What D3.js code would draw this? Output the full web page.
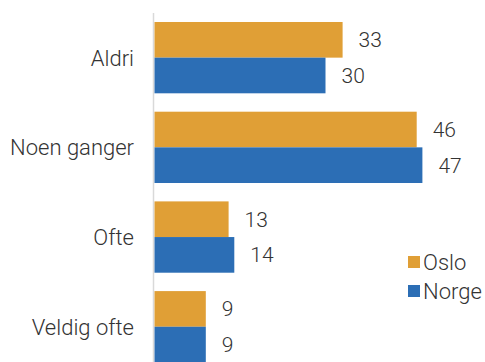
<!DOCTYPE html>
<html>
<head>
<meta charset="utf-8">
<script src="https://cdn.jsdelivr.net/npm/d3@7/dist/d3.min.js"></script>
<style>
  html, body { margin: 0; padding: 0; background: #fff; }
  svg { display: block; }
  text { font-family: Roboto, "Noto Sans", sans-serif; font-weight: 300; fill: #333; }
</style>
</head>
<body>
<svg id="chart" width="485" height="362"></svg>
<script>
// Answers per category, Oslo vs. national figures (percent)
const categories = ["Aldri", "Noen ganger", "Ofte", "Veldig ofte"];
const seriesNames = ["Oslo", "Norge"];
const osloValues = [33, 46, 13, 9];
const norgeValues = [30, 47, 14, 9];
const colors = ["#E09F36", "#2C6EB5"];

const rows = categories.map((c, i) => ({
  category: c,
  values: [
    { series: seriesNames[0], value: osloValues[i] },
    { series: seriesNames[1], value: norgeValues[i] }
  ]
}));

const svg = d3.select("#chart");
const x0 = 154.5;

const x = d3.scaleLinear().domain([0, 50]).range([x0, x0 + 285]);

const y = d3.scaleBand()
  .domain(categories)
  .range([12.8, 371.6])
  .paddingInner(0.205)
  .paddingOuter(0.1025);

const ySub = d3.scaleBand()
  .domain(seriesNames)
  .range([0, y.bandwidth()]);

const color = d3.scaleOrdinal().domain(seriesNames).range(colors);

// Category axis line
svg.append("line")
  .attr("x1", x0 - 1).attr("x2", x0 - 1)
  .attr("y1", 13).attr("y2", 362)
  .attr("stroke", "#d9d9d9")
  .attr("stroke-width", 1.5);

const groups = svg.selectAll("g.group")
  .data(rows)
  .join("g")
  .attr("class", "group")
  .attr("transform", d => `translate(0,${y(d.category)})`);

groups.selectAll("rect")
  .data(d => d.values)
  .join("rect")
  .attr("x", x(0))
  .attr("y", d => ySub(d.series))
  .attr("width", d => x(d.value) - x(0))
  .attr("height", ySub.bandwidth())
  .attr("fill", d => color(d.series));

groups.selectAll("text.value")
  .data(d => d.values)
  .join("text")
  .attr("class", "value")
  .attr("x", d => x(d.value) + 16)
  .attr("y", d => ySub(d.series) + ySub.bandwidth() / 2)
  .attr("dy", "0.36em")
  .attr("font-size", 21)
  .text(d => d.value);

// Category labels
svg.selectAll("text.cat")
  .data(categories)
  .join("text")
  .attr("class", "cat")
  .attr("x", 134)
  .attr("y", d => y(d) + y.bandwidth() / 2)
  .attr("dy", "0.36em")
  .attr("text-anchor", "end")
  .attr("font-size", 22)
  .text(d => d);

// Legend
const legend = svg.append("g").attr("transform", "translate(408,256)");
const items = legend.selectAll("g")
  .data(seriesNames)
  .join("g")
  .attr("transform", (d, i) => `translate(0,${i * 29})`);
items.append("rect")
  .attr("width", 12).attr("height", 12)
  .attr("fill", d => color(d));
items.append("text")
  .attr("x", 15)
  .attr("y", 6)
  .attr("dy", "0.36em")
  .attr("font-size", 22)
  .text(d => d);
</script>
</body>
</html>
